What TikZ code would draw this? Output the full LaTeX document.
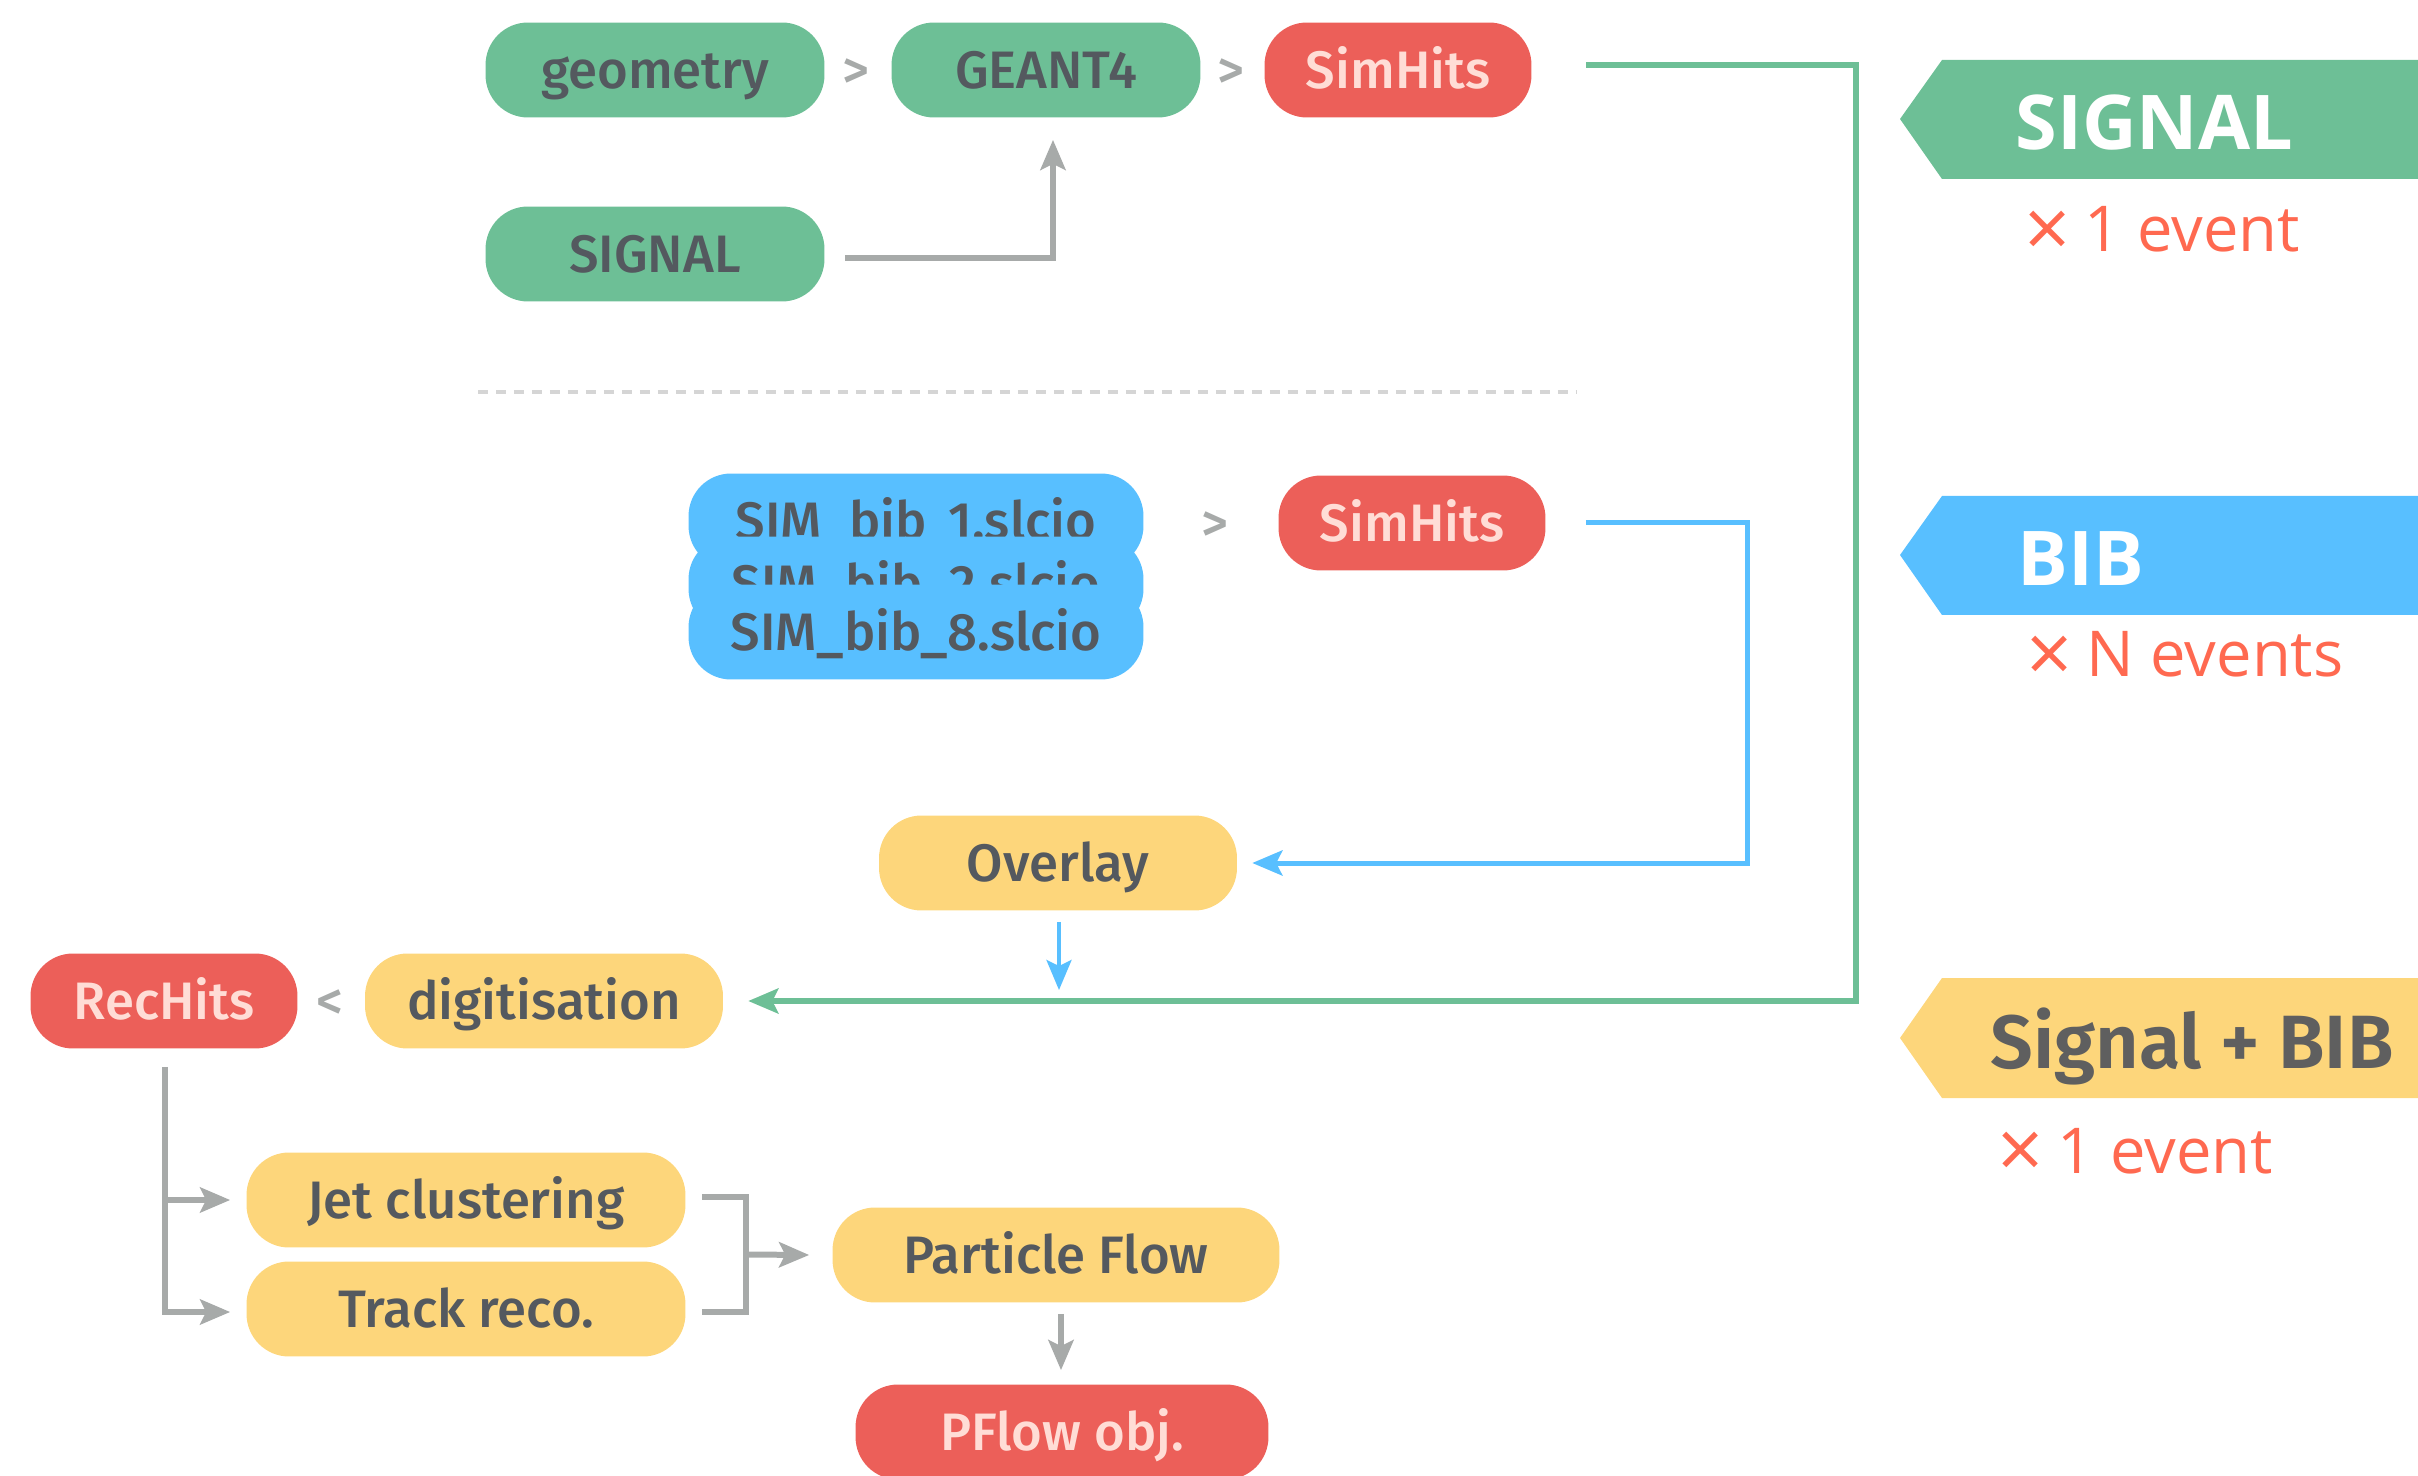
\documentclass[tikz,border=0pt]{standalone}
\usepackage{fontspec}
\usetikzlibrary{arrows.meta,calc}
\newfontfamily\nodefont{Fira Sans Medium}
\newfontfamily\bannerfont{Open Sans}
\newfontfamily\sbfont{Fira Sans SemiBold}
\definecolor{cgreen}{HTML}{6DBF96}
\definecolor{cred}{HTML}{EC5F59}
\definecolor{cblue}{HTML}{58BFFF}
\definecolor{cyellow}{HTML}{FDD67B}
\definecolor{cdark}{HTML}{54595F}
\definecolor{cpink}{HTML}{FFDDD6}
\definecolor{cgray}{HTML}{A7AAA9}
\definecolor{corange}{HTML}{FF6950}
\definecolor{cdash}{HTML}{D5D5D5}
\definecolor{cbantext}{HTML}{5F5F5F}
\newcommand\bigtimes{\raisebox{-3pt}{\fontsize{46}{44}\selectfont ×}\hspace{0.22em}}
\tikzset{
  pill/.style={rounded corners=0.85cm, minimum height=1.9cm, inner sep=0pt,
    font=\nodefont\fontsize{30}{36}\selectfont, text height=21pt, text depth=0pt, text=cdark},
  gpill/.style={pill, fill=cgreen},
  rpill/.style={pill, fill=cred, text=cpink},
  bpill/.style={pill, fill=cblue},
  ypill/.style={pill, fill=cyellow},
  sep/.style={font=\nodefont\fontsize{30}{36}\selectfont, text=cgray, inner sep=0pt, text height=21pt, text depth=0pt},
  tip/.style={-{Stealth[length=0.6cm,width=0.5cm,inset=0.12cm]}},
  grayline/.style={draw=cgray, line width=0.12cm},
  greenline/.style={draw=cgreen, line width=0.11cm},
  blueline/.style={draw=cblue, line width=0.1cm},
  bantitle/.style={anchor=base west, inner sep=0pt, text=white, font=\bannerfont\bfseries\fontsize{43}{50}\selectfont},
  bancount/.style={anchor=base west, inner sep=0pt, text=corange, font=\bannerfont\fontsize{36}{44}\selectfont},
}
\begin{document}
\begin{tikzpicture}[x=0.02cm,y=-0.02cm]
\useasboundingbox (0,0) rectangle (2418,1476);

% top signal row
\node[gpill, minimum width=6.78cm] (geometry) at (655,70) {geometry};
\node[sep] (s1) at (856,70) {>};
\node[gpill, minimum width=6.18cm] (geant) at (1046,70) {GEANT4};
\node[sep] (s2) at (1231,70) {>};
\node[rpill, minimum width=5.34cm] (simhits1) at (1398,70) {SimHits};
\node[gpill, minimum width=6.78cm] (signal) at (655,254) {SIGNAL};

% separator
\coordinate (dl) at (478,392);
\coordinate (dr) at (1576,392);
\draw[cdash, line width=0.07cm, dash pattern=on 0.2cm off 0.16cm] (dl) -- (dr);

% BIB files
\node[bpill, minimum width=9.1cm] (bib1) at (916,521) {SIM\_bib\_1.slcio};
\node[bpill, minimum width=9.1cm] (bib2) at (916,584) {SIM\_bib\_2.slcio};
\node[bpill, minimum width=9.1cm] (bib8) at (916,632) {SIM\_bib\_8.slcio};
\node[sep] (s3) at (1215,523) {>};
\node[rpill, minimum width=5.34cm] (simhits2) at (1412,523) {SimHits};

% overlay and digitisation
\node[ypill, minimum width=7.16cm] (overlay) at (1058,863) {Overlay};
\node[ypill, minimum width=7.16cm] (digit) at (544,1001) {digitisation};
\node[sep] (s4) at (330,1001) {<};
\node[rpill, minimum width=5.34cm] (rechits) at (164,1001) {RecHits};

% reconstruction
\node[ypill, minimum width=8.78cm] (jet) at (466,1200) {Jet clustering};
\node[ypill, minimum width=8.78cm] (track) at (466,1309) {Track reco.};
\node[ypill, minimum width=8.94cm] (pf) at (1056,1255) {Particle Flow};
\node[rpill, minimum width=8.26cm] (pflow) at (1062,1432) {PFlow obj.};

% connectors
\draw[grayline, tip] ($(signal.east)+(20,4)$) -| ($(geant.south)+(7,22)$);
\draw[greenline, tip] ($(simhits1.east)+(54,-5)$) -- ++(270,0) |- ($(digit.east)+(25,0)$);
\draw[blueline, tip] ($(simhits2.east)+(40,0)$) -- ++(162,0) |- ($(overlay.east)+(15,0)$);
\draw[blueline, line width=0.08cm, tip] ($(overlay.south)+(1,11)$) -- ($(overlay.south |- digit.east)+(1,-11)$);
\draw[grayline, tip] ($(rechits.south)+(1,18)$) |- ($(track.west)+(-16,3)$);
\draw[grayline, tip] ($(rechits.south |- jet.west)+(1,0)$) -- ($(jet.west)+(-16,0)$);
\draw[grayline] ($(jet.east)+(16,-3)$) -- ++(44,0) |- ($(track.east)+(16,3)$);
\draw[grayline, tip] ($(jet.east)!0.5!(track.east)+(60,0)$) -- ($(pf.west)+(-23,0)$);
\draw[grayline, tip] ($(pf.south)+(5,11)$) -- ($(pflow.north)+(-1,-14)$);

% banners
\fill[cgreen] (1900,119) -- (1942,60) -- (2418,60) -- (2418,179) -- (1942,179) -- cycle;
\node[bantitle] (bt1) at (2015,150) {SIGNAL};
\node[bancount] (bc1) at (2024,252) {\bigtimes 1 event};

\fill[cblue] (1900,555) -- (1942,496) -- (2418,496) -- (2418,615) -- (1942,615) -- cycle;
\node[bantitle] (bt2) at (2017,586) {BIB};
\node[bancount] (bc2) at (2026,677) {\bigtimes N events};

\fill[cyellow] (1900,1038) -- (1942,978) -- (2418,978) -- (2418,1098) -- (1942,1098) -- cycle;
\node[anchor=base west, inner sep=0pt, text=cbantext, font=\sbfont\fontsize{43}{52}\selectfont] (bt3) at (1990,1068) {Signal + BIB};
\node[bancount] (bc3) at (1997,1173) {\bigtimes 1 event};
\end{tikzpicture}
\end{document}
